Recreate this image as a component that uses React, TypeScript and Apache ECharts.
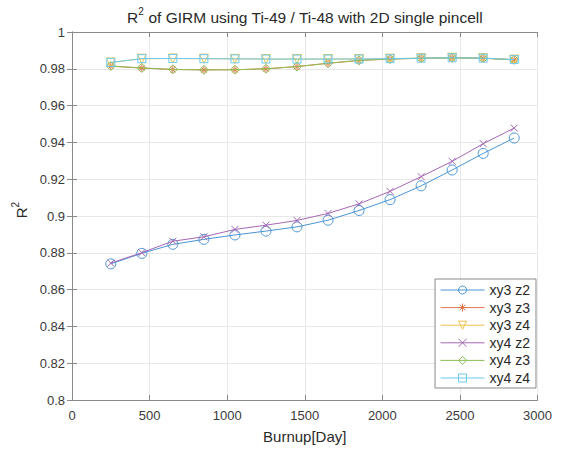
import React, { useEffect, useRef } from "react";
import * as echarts from "echarts";

const burnup = [250, 450, 650, 850, 1050, 1250, 1450, 1650, 1850, 2050, 2250, 2450, 2650, 2850];
const xy3z2 = [0.874, 0.8797, 0.8846, 0.8873, 0.8897, 0.8918, 0.8941, 0.8977, 0.903, 0.9089, 0.9164, 0.925, 0.934, 0.9424];
const xy3z3 = [0.9814, 0.9804, 0.9796, 0.9794, 0.9795, 0.98, 0.9812, 0.983, 0.9845, 0.9853, 0.9857, 0.986, 0.9857, 0.9849];
const xy3z4 = [0.9834, 0.9855, 0.9856, 0.9855, 0.9854, 0.9853, 0.9853, 0.9853, 0.9853, 0.9855, 0.9858, 0.986, 0.9858, 0.985];
const xy4z2 = [0.8744, 0.8801, 0.8863, 0.8887, 0.8927, 0.895, 0.8976, 0.9014, 0.9066, 0.9134, 0.9214, 0.9297, 0.9393, 0.9478];
const xy4z3 = [0.9815, 0.9805, 0.9797, 0.9794, 0.9795, 0.98, 0.9812, 0.983, 0.9846, 0.9853, 0.9857, 0.986, 0.9857, 0.9849];
const xy4z4 = [0.9835, 0.9855, 0.9856, 0.9855, 0.9854, 0.9853, 0.9853, 0.9853, 0.9853, 0.9855, 0.9858, 0.986, 0.9858, 0.985];
const seriesNames = ["xy3 z2", "xy3 z3", "xy3 z4", "xy4 z2", "xy4 z3", "xy4 z4"];

const FONT = "'Liberation Sans', Arial, sans-serif";
const colors = ["#4a95d6", "#e2764a", "#f0c24a", "#a468b4", "#8fbf55", "#6ccaf0"];
const symbols = [
  "circle",
  "path://M5,0L5,10M0,5L10,5M1.5,1.5L8.5,8.5M8.5,1.5L1.5,8.5",
  "path://M0,0L10,0L5,9Z",
  "path://M0,0L10,10M10,0L0,10",
  "path://M5,0L10,6L5,12L0,6Z",
  "path://M0,0L10,0L10,10L0,10Z",
];
const symbolSizes = [10, 8, 9, 7, 9, 8];
const allData = [xy3z2, xy3z3, xy3z4, xy4z2, xy4z3, xy4z4];

export default function App() {
  const ref = useRef<HTMLDivElement>(null);
  useEffect(() => {
    if (!ref.current) return;
    const chart = echarts.init(ref.current, null, { renderer: "svg" });
    const axisColor = "#8a8a8a";
    const labelColor = "#3a3a3a";
    const titleRich = {
      a: { fontFamily: FONT, fontSize: 15.5, color: "#2a2a2a", verticalAlign: "bottom", lineHeight: 19 },
      s: { fontFamily: FONT, fontSize: 10, color: "#2a2a2a", verticalAlign: "top", lineHeight: 19 },
    };
    const yRich = {
      a: { fontFamily: FONT, fontSize: 15, color: "#2a2a2a", verticalAlign: "bottom", lineHeight: 18 },
      s: { fontFamily: FONT, fontSize: 10, color: "#2a2a2a", verticalAlign: "top", lineHeight: 18 },
    };
    chart.setOption({
      animation: false,
      backgroundColor: "#ffffff",
      title: {
        text: "{a|R}{s|2}{a| of GIRM using Ti-49 / Ti-48 with 2D single pincell}",
        left: 305,
        textAlign: "center",
        top: 6,
        padding: 0,
        textStyle: { fontWeight: "normal", rich: titleRich },
      },
      grid: { left: 72, right: 23.5, top: 32, bottom: 48, containLabel: false },
      legend: {
        orient: "vertical",
        right: 25,
        bottom: 61,
        itemWidth: 44,
        itemHeight: 10,
        itemGap: 3.6,
        padding: [4, 6, 3, 5],
        borderColor: "#8a8a8a",
        borderWidth: 1,
        borderRadius: 0,
        backgroundColor: "#ffffff",
        textStyle: { fontFamily: FONT, fontSize: 14, lineHeight: 14, color: "#2a2a2a" },
        data: seriesNames.map((name, i) => ({
          name,
          itemStyle: { color: "rgba(255,255,255,0)", borderColor: colors[i], borderWidth: 1 },
          lineStyle: { color: colors[i], width: 1 },
        })),
      },
      xAxis: [
        {
          type: "value",
          min: 0,
          max: 3000,
          interval: 500,
          name: "Burnup[Day]",
          nameLocation: "middle",
          nameGap: 29,
          nameTextStyle: { fontFamily: FONT, fontSize: 15, color: "#2a2a2a" },
          axisLine: { show: true, lineStyle: { color: axisColor } },
          axisTick: { show: true, inside: true, length: 5, lineStyle: { color: axisColor } },
          axisLabel: { fontFamily: FONT, fontSize: 13, color: labelColor, margin: 9, formatter: (v: number) => String(v) },
          splitLine: { show: true, lineStyle: { color: "#e8e8e8" } },
        },
        {
          type: "value",
          position: "top",
          min: 0,
          max: 3000,
          interval: 500,
          axisLine: { show: true, lineStyle: { color: axisColor } },
          axisTick: { show: true, inside: true, length: 5, lineStyle: { color: axisColor } },
          axisLabel: { show: false },
          splitLine: { show: false },
        },
      ],
      yAxis: [
        {
          type: "value",
          min: 0.8,
          max: 1,
          interval: 0.02,
          name: "{a|R}{s|2}",
          nameLocation: "middle",
          nameGap: 40,
          nameRotate: 90,
          nameTextStyle: { rich: yRich, padding: [0, 0, 0, 12] },
          axisLine: { show: true, lineStyle: { color: axisColor } },
          axisTick: { show: true, inside: true, length: 5, lineStyle: { color: axisColor } },
          axisLabel: {
            fontFamily: FONT,
            fontSize: 13,
            color: labelColor,
            margin: 7,
            formatter: (v: number) => String(parseFloat(v.toFixed(2))),
          },
          splitLine: { show: true, lineStyle: { color: "#e8e8e8" } },
        },
        {
          type: "value",
          position: "right",
          min: 0.8,
          max: 1,
          interval: 0.02,
          axisLine: { show: true, lineStyle: { color: axisColor } },
          axisTick: { show: true, inside: true, length: 5, lineStyle: { color: axisColor } },
          axisLabel: { show: false },
          splitLine: { show: false },
        },
      ],
      series: seriesNames.map((name, i) => ({
        name,
        type: "line",
        xAxisIndex: 0,
        yAxisIndex: 0,
        data: burnup.map((x, j) => [x, allData[i][j]]),
        symbol: symbols[i],
        symbolSize: symbolSizes[i],
        showSymbol: true,
        lineStyle: { color: colors[i], width: 1 },
        itemStyle: {
          color: "rgba(255,255,255,0)",
          borderColor: colors[i],
          borderWidth: 1,
        },
        emphasis: { disabled: true },
        z: 2 + i,
      })),
    });
    return () => chart.dispose();
  }, []);
  return <div ref={ref} style={{ position: "fixed", left: 0, top: 0, width: 561, height: 449 }} />;
}
